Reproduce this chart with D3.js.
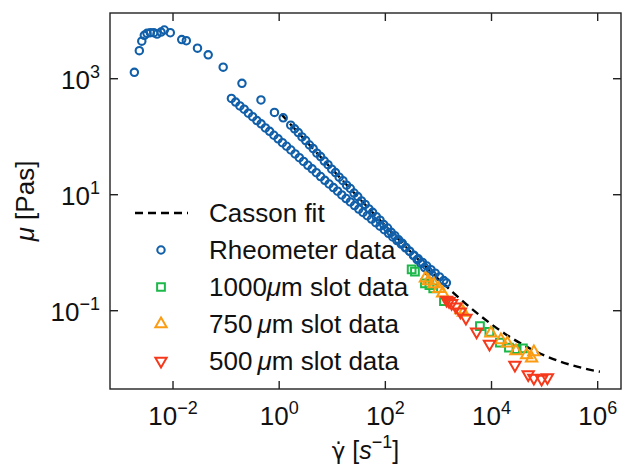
<!DOCTYPE html>
<html>
<head>
<meta charset="utf-8">
<script src="https://cdn.jsdelivr.net/npm/d3@7"></script>
<style>
  body { margin: 0; background: #fff; }
  svg { display: block; }
</style>
</head>
<body>
<svg width="629" height="469"></svg>
<script>
// Casson fit curve (shear rate, viscosity)
const cassonShear = [1.09, 1.78, 3.16, 5.62, 10, 17.8, 31.6, 56.2, 100, 178, 316, 562, 1000, 1780,
  3160, 5620, 1e4, 1.78e4, 3.16e4, 5.62e4, 1e5, 1.78e5, 3.16e5, 5.62e5, 1e6, 1.1e6];
const cassonVisc = [245, 150.6, 85.1, 48.1, 27.3, 15.5, 8.82, 5.05, 2.91, 1.69, 0.987, 0.585, 0.352, 0.216,
  0.135, 0.0873, 0.0582, 0.0402, 0.029, 0.0217, 0.0169, 0.0137, 0.0116, 0.0101, 0.009, 0.00887];

// Rheometer data: low shear peak, upper sweep, lower sweep
const rheoShear = [
  0.00187, 0.00232, 0.00258, 0.00288, 0.00324, 0.00374, 0.00434, 0.005, 0.00594, 0.00686, 0.00889,
  0.0146, 0.0178, 0.0289, 0.046, 0.0881, 0.199, 0.454, 0.815, 1.19, 1.65,
  1.95, 2.29, 2.69, 3.16, 3.72, 4.37, 5.13, 6.03, 7.08, 8.32, 9.77, 11.5, 13.5, 15.9, 18.6, 21.9, 25.7,
  30.2, 35.5, 41.7, 49, 57.5, 67.6, 79.4, 93.3, 110, 129, 151, 178, 209, 245, 288, 339, 398, 468, 550, 646, 759,
  0.126, 0.151, 0.182, 0.219, 0.263, 0.316, 0.38, 0.457, 0.55, 0.661, 0.794, 0.955, 1.15, 1.38, 1.66, 2.0,
  2.4, 2.88, 3.47, 4.17, 5.01, 6.03, 7.24, 8.71, 10.5, 12.6, 15.1, 18.2, 21.9, 26.3, 31.6, 38, 45.7, 55,
  66.1, 79.4, 95.5, 115, 138, 166, 200, 240, 288, 347, 417, 501, 603, 724, 871, 1047, 1259, 1413
];
const rheoVisc = [
  1290, 3040, 4440, 5600, 6070, 6210, 6210, 5900, 6380, 6920, 6210,
  4740, 4520, 3360, 2580, 1580, 834, 430, 262, 212, 158,
  137, 118, 99, 86, 72, 62.5, 52, 45.5, 38, 33, 27.6, 24.1, 20.1, 17.5, 14.6, 12.8, 10.7,
  9.3, 7.8, 6.8, 5.7, 4.98, 4.18, 3.64, 3.06, 2.67, 2.25, 1.97, 1.67, 1.45, 1.23, 1.06, 0.89, 0.76, 0.65, 0.555, 0.475, 0.415,
  457, 395, 340, 298, 255, 222, 190, 167, 142, 124, 106, 92, 79, 68.5, 59, 50.5,
  43.5, 37.5, 32.2, 28, 24, 20.6, 17.7, 15.3, 13.3, 11.5, 9.9, 8.6, 7.5, 6.5, 5.65, 4.95, 4.35, 3.8,
  3.3, 2.87, 2.5, 2.16, 1.87, 1.62, 1.4, 1.21, 1.05, 0.905, 0.785, 0.68, 0.59, 0.51, 0.443, 0.383, 0.331, 0.303
];

// 1000 um slot
const slot1000Shear = [313, 361, 557, 676, 798, 1271, 6053, 9120, 14390, 21280, 29720, 38990];
const slot1000Visc = [0.518, 0.47, 0.296, 0.275, 0.242, 0.147, 0.0545, 0.043, 0.0283, 0.0232, 0.0217, 0.0225];
// 750 um slot
const slot750Shear = [569, 649, 822, 1021, 1202, 2655, 2951, 9750, 15030, 19910, 28840, 45810, 56890, 62810];
const slot750Visc = [0.362, 0.325, 0.288, 0.239, 0.2, 0.1028, 0.0933, 0.0407, 0.0313, 0.0274, 0.0202, 0.0172, 0.0151, 0.0194];
// 500 um slot
const slot500Shear = [1426, 1585, 1774, 2138, 2594, 3296, 5236, 9162, 27610, 49090, 62810, 87900, 113000];
const slot500Visc = [0.153, 0.145, 0.134, 0.117, 0.0962, 0.0748, 0.0435, 0.0267, 0.0116, 0.00794, 0.00692, 0.00664, 0.00705];

const xTickExp = [-2, 0, 2, 4, 6];
const yTickExp = [-1, 1, 3];
const legendLabels = ["Casson fit", "Rheometer data", "1000", "750", "500"];

const colors = { rheo: "#115fa9", s1000: "#1db84a", s750: "#fb9c12", s500: "#f5391a" };
const font = "'Liberation Sans', Arial, sans-serif";

const svg = d3.select("svg");
const margin = {top: 13, right: 8, bottom: 80, left: 110};
const width = 629 - margin.left - margin.right;
const height = 469 - margin.top - margin.bottom;

const xScale = d3.scaleLog().domain([6.5e-4, 2.75e6]).range([0, width]);
const yScale = d3.scaleLog().domain([0.00447, 13590]).range([height, 0]);

const g = svg.append("g").attr("transform", `translate(${margin.left},${margin.top})`);

// Casson fit
const line = d3.line().x(d => xScale(d[0])).y(d => yScale(d[1])).curve(d3.curveMonotoneX);
g.append("path")
  .datum(d3.zip(cassonShear, cassonVisc))
  .attr("d", line)
  .attr("fill", "none")
  .attr("stroke", "#000")
  .attr("stroke-width", 2.4)
  .attr("stroke-dasharray", "8,5");

// rheometer circles
g.selectAll("circle.rheo")
  .data(d3.zip(rheoShear, rheoVisc))
  .enter().append("circle")
  .attr("class", "rheo")
  .attr("cx", d => xScale(d[0]))
  .attr("cy", d => yScale(d[1]))
  .attr("r", 3.7)
  .attr("fill", "none")
  .attr("stroke", colors.rheo)
  .attr("stroke-width", 2.1);

function drawSymbols(shear, visc, type, size, color, rotate) {
  const sym = d3.symbol().type(type).size(size);
  g.append("g").selectAll("path")
    .data(d3.zip(shear, visc))
    .enter().append("path")
    .attr("d", sym)
    .attr("transform", d => `translate(${xScale(d[0])},${yScale(d[1])})${rotate ? " rotate(180)" : ""}`)
    .attr("fill", "none")
    .attr("stroke", color)
    .attr("stroke-width", 2);
}
drawSymbols(slot1000Shear, slot1000Visc, d3.symbolSquare, 60, colors.s1000, false);
drawSymbols(slot750Shear, slot750Visc, d3.symbolTriangle, 55, colors.s750, false);
drawSymbols(slot500Shear, slot500Visc, d3.symbolTriangle, 55, colors.s500, true);

// frame
g.append("rect")
  .attr("width", width).attr("height", height)
  .attr("fill", "none").attr("stroke", "#222").attr("stroke-width", 1.4);

// ticks (inward, all four sides)
const tickLen = 8;
xTickExp.forEach(e => {
  const x = xScale(Math.pow(10, e));
  g.append("line").attr("x1", x).attr("x2", x).attr("y1", height).attr("y2", height - tickLen)
    .attr("stroke", "#222").attr("stroke-width", 1.4);
  g.append("line").attr("x1", x).attr("x2", x).attr("y1", 0).attr("y2", tickLen)
    .attr("stroke", "#222").attr("stroke-width", 1.4);
  const t = g.append("text").attr("x", x).attr("y", height + 36)
    .attr("text-anchor", "middle").attr("font-family", font).attr("font-size", 26).attr("fill", "#111");
  t.append("tspan").text("10");
  t.append("tspan").attr("dy", -11).attr("font-size", 18).text(String(e).replace("-", "\u2212"));
});
yTickExp.forEach(e => {
  const y = yScale(Math.pow(10, e));
  g.append("line").attr("x1", 0).attr("x2", tickLen).attr("y1", y).attr("y2", y)
    .attr("stroke", "#222").attr("stroke-width", 1.4);
  g.append("line").attr("x1", width).attr("x2", width - tickLen).attr("y1", y).attr("y2", y)
    .attr("stroke", "#222").attr("stroke-width", 1.4);
  const t = g.append("text").attr("x", -10).attr("y", y + 10)
    .attr("text-anchor", "end").attr("font-family", font).attr("font-size", 26).attr("fill", "#111");
  t.append("tspan").text("10");
  t.append("tspan").attr("dy", -11).attr("font-size", 18).text(String(e).replace("-", "\u2212"));
});

// axis labels
const xl = svg.append("text")
  .attr("x", margin.left + width / 2).attr("y", 459)
  .attr("text-anchor", "middle").attr("font-family", font).attr("font-size", 25).attr("fill", "#111");
xl.append("tspan").attr("font-family", "'DejaVu Sans', sans-serif").attr("font-size", 23).text("\u03b3\u0307");
xl.append("tspan").text("  [");
xl.append("tspan").attr("font-style", "italic").text("s");
xl.append("tspan").attr("dy", -11).attr("font-size", 18).text("\u22121");
xl.append("tspan").attr("dy", 11).text("]");

const yl = svg.append("text")
  .attr("transform", `translate(34,${margin.top + height / 2}) rotate(-90)`)
  .attr("text-anchor", "middle").attr("font-family", font).attr("font-size", 26).attr("fill", "#111");
yl.append("tspan").attr("font-style", "italic").text("\u03bc");
yl.append("tspan").text(" [Pas]");

// legend
const legendX = 209, legendY0 = 213, legendStep = 37;
const lg = svg.append("g");
lg.append("line").attr("x1", 135).attr("x2", 188).attr("y1", legendY0).attr("y2", legendY0)
  .attr("stroke", "#000").attr("stroke-width", 2.4).attr("stroke-dasharray", "8,5");
lg.append("circle").attr("cx", 161).attr("cy", legendY0 + legendStep).attr("r", 3.7)
  .attr("fill", "none").attr("stroke", colors.rheo).attr("stroke-width", 2.1);
const legSyms = [
  [d3.symbolSquare, 60, colors.s1000, false],
  [d3.symbolTriangle, 55, colors.s750, false],
  [d3.symbolTriangle, 55, colors.s500, true]
];
legSyms.forEach((s, i) => {
  lg.append("path").attr("d", d3.symbol().type(s[0]).size(s[1]))
    .attr("transform", `translate(161,${legendY0 + legendStep * (i + 2)})${s[3] ? " rotate(180)" : ""}`)
    .attr("fill", "none").attr("stroke", s[2]).attr("stroke-width", 2);
});
legendLabels.forEach((lab, i) => {
  const t = lg.append("text").attr("x", legendX).attr("y", legendY0 + legendStep * i + 9)
    .attr("font-family", font).attr("font-size", 26).attr("fill", "#111");
  if (i < 2) {
    t.text(lab);
  } else {
    t.append("tspan").text(lab + (i === 2 ? "" : "\u2009"));
    t.append("tspan").attr("font-style", "italic").text("\u03bc");
    t.append("tspan").text("m slot data");
  }
});
</script>
</body>
</html>
